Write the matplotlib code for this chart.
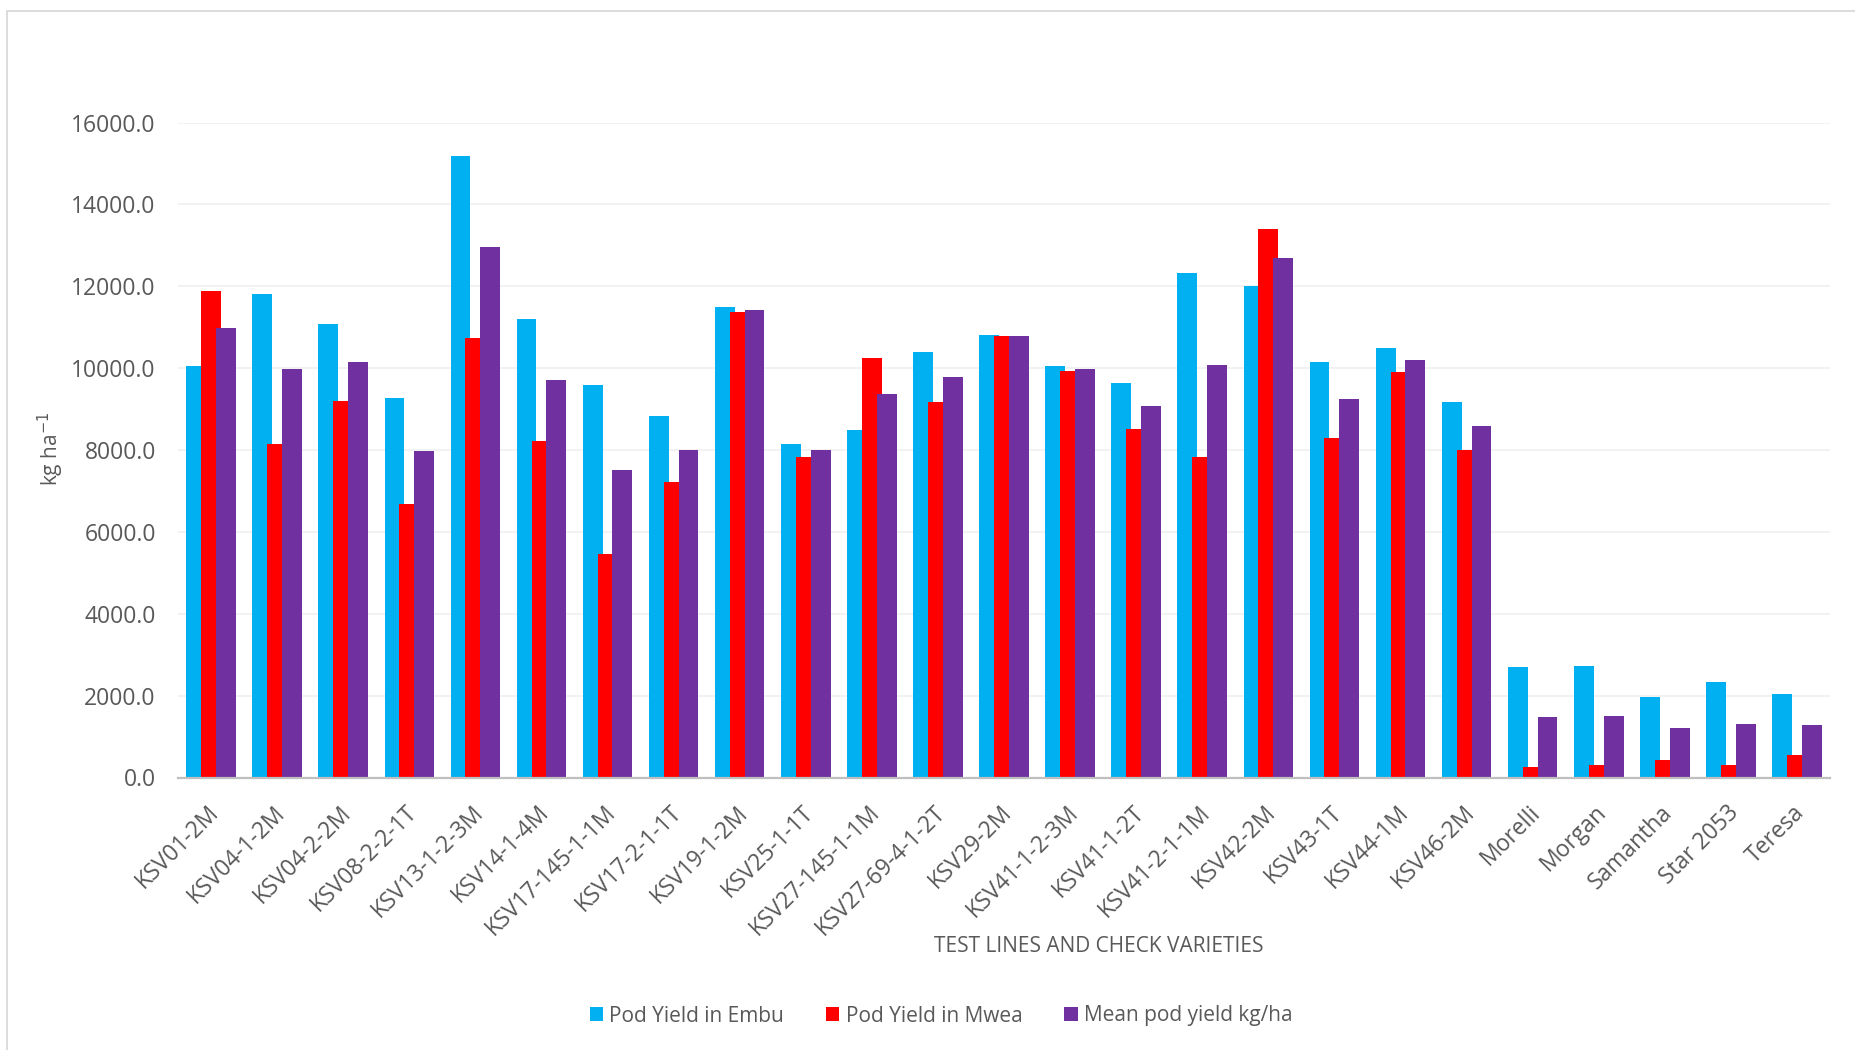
import numpy as np
import matplotlib
matplotlib.use("Agg")
import matplotlib.pyplot as plt
import matplotlib.transforms as mtransforms
from matplotlib.patches import Rectangle

plt.rcParams['font.family'] = ['Open Sans', 'DejaVu Sans']

# Pod yield (kg/ha) of test lines and check varieties at two sites
varieties = ['KSV01-2M', 'KSV04-1-2M', 'KSV04-2-2M', 'KSV08-2-2-1T', 'KSV13-1-2-3M',
             'KSV14-1-4M', 'KSV17-145-1-1M', 'KSV17-2-1-1T', 'KSV19-1-2M', 'KSV25-1-1T',
             'KSV27-145-1-1M', 'KSV27-69-4-1-2T', 'KSV29-2M', 'KSV41-1-2-3M', 'KSV41-1-2T',
             'KSV41-2-1-1M', 'KSV42-2M', 'KSV43-1T', 'KSV44-1M', 'KSV46-2M',
             'Morelli', 'Morgan', 'Samantha', 'Star 2053', 'Teresa']
embu = [10057, 11809, 11075, 9259, 15189, 11189, 9593, 8819, 11483, 8151,
        8477, 10383, 10798, 10049, 9633, 12314, 12004, 10155, 10481, 9177,
        2710, 2730, 1970, 2330, 2040]
mwea = [11890, 8143, 9185, 6692, 10725, 8208, 5453, 7222, 11360, 7817,
        10236, 9177, 10790, 9919, 8501, 7841, 13389, 8297, 9902, 7996,
        260, 310, 430, 310, 560]
mean = [10969, 9984, 10138, 7980, 12965, 9699, 7523, 8012, 11426, 7988,
        9356, 9772, 10790, 9984, 9063, 10065, 12688, 9234, 10187, 8591,
        1490, 1510, 1200, 1310, 1290]
yticks = np.arange(0, 16001, 2000)

W, H = 1855, 1050
txt = '#595959'

fig = plt.figure(figsize=(W / 100, H / 100), dpi=100)
ax = fig.add_axes([178 / W, 1 - 777.5 / H, (1830 - 178) / W, (777.5 - 122.5) / H])

x = np.arange(len(varieties))
bw = 0.30
step = 0.225
ax.bar(x - step, embu, bw, color='#00B0F0', label='Pod Yield in Embu', zorder=2)
ax.bar(x, mwea, bw, color='#FF0000', label='Pod Yield in Mwea', zorder=3)
ax.bar(x + step, mean, bw, color='#7030A0', label='Mean pod yield kg/ha', zorder=4)

ax.set_xlim(-0.5, len(varieties) - 0.5)
ax.set_ylim(0, 16000)
ax.set_yticks(yticks)
ax.set_yticklabels([f'{v:.1f}' for v in yticks])
ax.yaxis.grid(True, color='#efefef', lw=1.1, zorder=0)
ax.set_axisbelow(True)

ax.set_xticks(x)
ax.set_xticklabels(varieties, rotation=45, ha='right', va='top', rotation_mode='anchor')
ax.tick_params(axis='both', length=0, labelsize=16.5, colors=txt)
ax.tick_params(axis='y', pad=16)
ax.tick_params(axis='x', pad=16)

# nudge rotated category labels slightly left
shift = mtransforms.ScaledTranslation(-4 / 100, -1 / 100, fig.dpi_scale_trans)
for lab in ax.get_xticklabels():
    lab.set_transform(lab.get_transform() + shift)

for s in ['top', 'right', 'left']:
    ax.spines[s].set_visible(False)
ax.spines['bottom'].set_color('#bfbfbf')
ax.spines['bottom'].set_linewidth(1.6)
ax.spines['bottom'].set_zorder(5)

# axis titles
fig.text(51 / W, 1 - 449 / H, 'kg ha$^{-1}$', rotation=90, ha='center', va='center',
         fontsize=15, color=txt)
fig.text(1099 / W, 1 - 947 / H, 'TEST LINES AND CHECK VARIETIES', ha='center', va='center',
         fontsize=15, color=txt)

leg = fig.legend(loc='center', bbox_to_anchor=(941 / W, 1 - 1016 / H), ncol=3, frameon=False,
                 fontsize=15, handlelength=0.65, handleheight=0.65, handletextpad=0.3,
                 columnspacing=2.0, labelcolor=txt)

# chart area border
fig.add_artist(Rectangle((7 / W, -0.1), 1.1, 1 - 11 / H + 0.1, transform=fig.transFigure,
                         fill=False, edgecolor='#d9d9d9', lw=1.3))

fig.savefig('out.png', dpi=100)
